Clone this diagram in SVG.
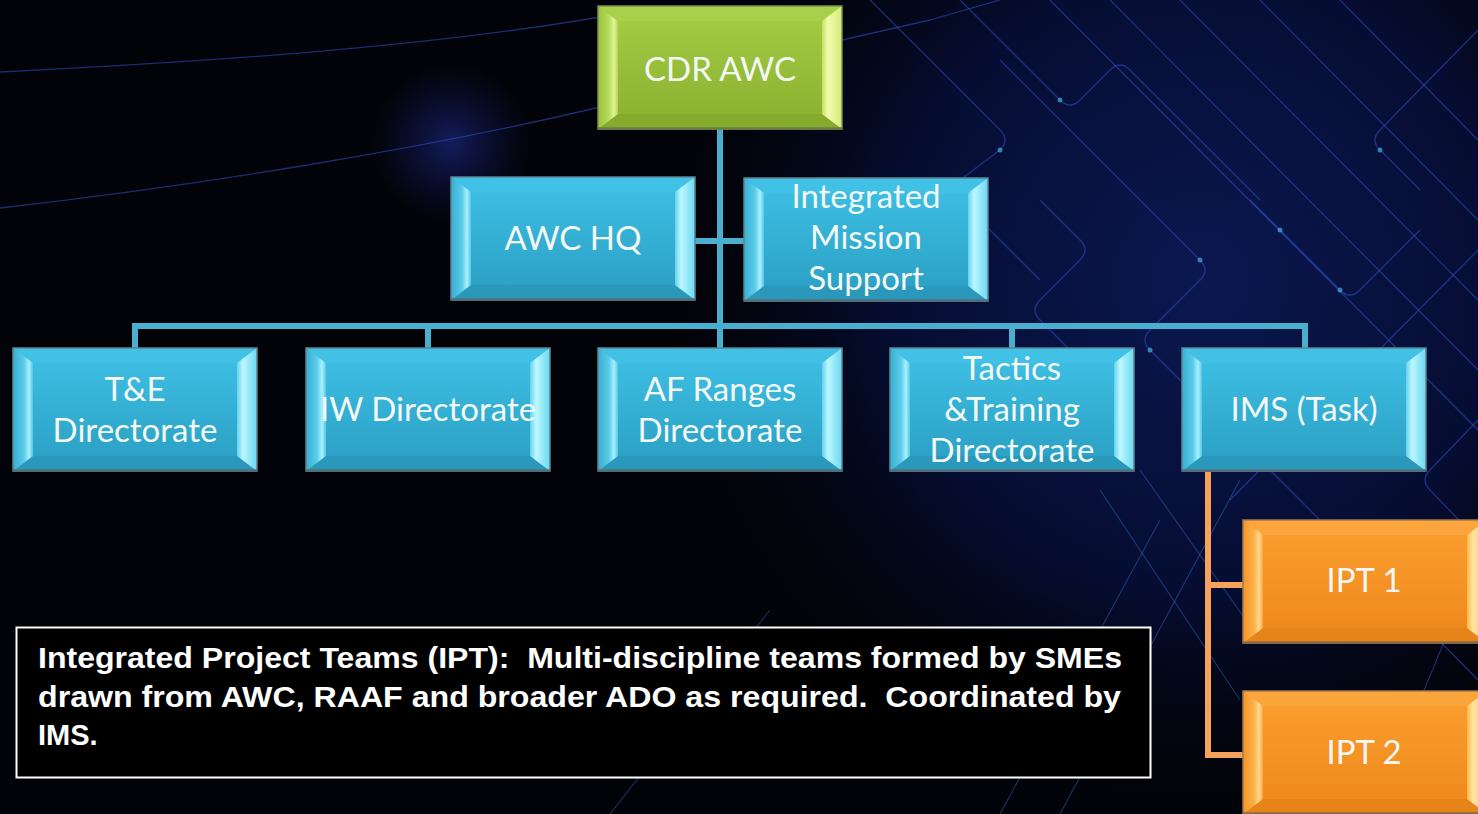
<svg xmlns="http://www.w3.org/2000/svg" xmlns:xlink="http://www.w3.org/1999/xlink" width="1478" height="814" viewBox="0 0 1478 814">
<style>
.node-text{font-family:"Lato","Open Sans","DejaVu Sans",sans-serif;font-size:33px;fill:#f4f8f4;text-anchor:middle}
.note-text{font-family:"Liberation Sans",Arial,sans-serif;font-weight:bold;font-size:29px;fill:#ffffff}
.conn-blue{fill:none;stroke:#4aafcf;stroke-width:6;stroke-linejoin:miter}
.conn-orange{fill:none;stroke:#f5a35a;stroke-width:6;stroke-linejoin:miter}
.circ{fill:none;stroke:#3356d8;stroke-width:1.3;opacity:.5;stroke-linejoin:round}
.circ2{fill:none;stroke:#3a7ae0;stroke-width:1.1;opacity:.4}
.dot{fill:#4fc3f0;opacity:.6}
.edge{fill:none;stroke:#5d8490;stroke-width:1.5}
</style>
<defs>
<radialGradient id="bgGlow" cx="1200" cy="280" r="560" gradientUnits="userSpaceOnUse">
<stop offset="0" stop-color="#0b1850"/>
<stop offset="0.55" stop-color="#060d32"/>
<stop offset="1" stop-color="#020308" stop-opacity="0"/>
</radialGradient>
<radialGradient id="blob" cx="0.5" cy="0.5" r="0.5">
<stop offset="0" stop-color="#2a3cc0" stop-opacity="0.45"/>
<stop offset="1" stop-color="#1a2890" stop-opacity="0"/>
</radialGradient>
<linearGradient id="bFace" x1="0" y1="0" x2="0" y2="1"><stop offset="0" stop-color="#3dbde2"/><stop offset="1" stop-color="#2ca2c6"/></linearGradient>
<linearGradient id="bLeft" x1="0" y1="0" x2="1" y2="0"><stop offset="0" stop-color="#35afd3"/><stop offset="0.55" stop-color="#5ccbe8"/><stop offset="0.8" stop-color="#a8f1ff"/><stop offset="1" stop-color="#55c6e4"/></linearGradient>
<linearGradient id="bRight" x1="0" y1="0" x2="1" y2="0"><stop offset="0" stop-color="#62d2ee"/><stop offset="0.3" stop-color="#bdf7ff"/><stop offset="1" stop-color="#6ad8f2"/></linearGradient>
<linearGradient id="gFace" x1="0" y1="0" x2="0" y2="1"><stop offset="0" stop-color="#a2ca42"/><stop offset="1" stop-color="#8db332"/></linearGradient>
<linearGradient id="gLeft" x1="0" y1="0" x2="1" y2="0"><stop offset="0" stop-color="#9cc23e"/><stop offset="0.55" stop-color="#b8dc5c"/><stop offset="0.8" stop-color="#e2f49a"/><stop offset="1" stop-color="#b0d456"/></linearGradient>
<linearGradient id="gRight" x1="0" y1="0" x2="1" y2="0"><stop offset="0" stop-color="#c4e060"/><stop offset="0.3" stop-color="#f2fbae"/><stop offset="1" stop-color="#d2ea78"/></linearGradient>
<linearGradient id="oFace" x1="0" y1="0" x2="0" y2="1"><stop offset="0" stop-color="#fa9c2e"/><stop offset="1" stop-color="#ef8a1e"/></linearGradient>
<linearGradient id="oLeft" x1="0" y1="0" x2="1" y2="0"><stop offset="0" stop-color="#f59528"/><stop offset="0.55" stop-color="#fbb048"/><stop offset="0.8" stop-color="#ffd98e"/><stop offset="1" stop-color="#f9a63c"/></linearGradient>
<linearGradient id="oRight" x1="0" y1="0" x2="1" y2="0"><stop offset="0" stop-color="#fbb650"/><stop offset="0.3" stop-color="#ffe6a4"/><stop offset="1" stop-color="#fcc060"/></linearGradient>

<g id="boxBlue">
<rect x="0" y="0" width="244" height="123" fill="url(#bFace)"/>
<polygon points="0,0 244,0 224,15 20,15" fill="#41c1e5"/>
<polygon points="0,123 244,123 224,108 20,108" fill="#2a98ba"/>
<polygon points="0,0 20,15 20,108 0,123" fill="url(#bLeft)"/>
<polygon points="244,0 224,15 224,108 244,123" fill="url(#bRight)"/>
<rect x="20" y="15" width="204" height="93" fill="url(#bFace)"/>
<rect x="0" y="0" width="244" height="123" class="edge"/>
<line x1="0" y1="122.5" x2="244" y2="122.5" stroke="#53707a" stroke-width="2.5"/>
</g>
<g id="boxGreen">
<rect x="0" y="0" width="244" height="123" fill="url(#gFace)"/>
<polygon points="0,0 244,0 224,15 20,15" fill="#a8d04a"/>
<polygon points="0,123 244,123 224,108 20,108" fill="#86aa2c"/>
<polygon points="0,0 20,15 20,108 0,123" fill="url(#gLeft)"/>
<polygon points="244,0 224,15 224,108 244,123" fill="url(#gRight)"/>
<rect x="20" y="15" width="204" height="93" fill="url(#gFace)"/>
<rect x="0" y="0" width="244" height="123" fill="none" stroke="#7a8f50" stroke-width="1.5"/>
<line x1="0" y1="122.5" x2="244" y2="122.5" stroke="#6c7d48" stroke-width="2.5"/>
</g>
<g id="boxOrange">
<rect x="0" y="0" width="244" height="123" fill="url(#oFace)"/>
<polygon points="0,0 244,0 224,15 20,15" fill="#fba63c"/>
<polygon points="0,123 244,123 224,108 20,108" fill="#e6841a"/>
<polygon points="0,0 20,15 20,108 0,123" fill="url(#oLeft)"/>
<polygon points="244,0 224,15 224,108 244,123" fill="url(#oRight)"/>
<rect x="20" y="15" width="204" height="93" fill="url(#oFace)"/>
<rect x="0" y="0" width="244" height="123" fill="none" stroke="#a07a50" stroke-width="1.5"/>
<line x1="0" y1="122.5" x2="244" y2="122.5" stroke="#8a6a48" stroke-width="2.5"/>
</g>
</defs>

<g id="background">
<rect x="0" y="0" width="1478" height="814" fill="#020308"/>
<rect x="0" y="0" width="1478" height="814" fill="url(#bgGlow)"/>
<circle cx="451" cy="143" r="80" fill="url(#blob)"/>
<path class="circ" d="M0,72 C200,62 420,48 600,17"/>
<path class="circ" d="M0,208 C200,185 420,150 600,107"/>
<path class="circ" d="M842,40 L930,20 L1000,0"/>
<path class="circ" d="M870,0 L1000,130 Q1010,140 1000,150 L960,180 Q950,190 960,200 L1040,280"/>
<path class="circ" d="M960,0 L1060,100 Q1070,110 1080,100 L1110,70 Q1120,60 1130,70 L1260,200"/>
<path class="circ" d="M1050,0 L1478,430"/>
<path class="circ" d="M1110,0 L1478,370"/>
<path class="circ" d="M1180,0 L1478,300"/>
<path class="circ" d="M1260,0 L1478,220"/>
<path class="circ" d="M1340,0 L1478,140"/>
<path class="circ" d="M1000,60 L1200,260 Q1210,270 1200,280 L1150,330 Q1140,340 1150,350 L1300,500 L1478,680"/>
<path class="circ" d="M1040,200 L1080,240 Q1090,250 1080,260 L1040,300 Q1030,310 1040,320 L1110,390"/>
<path class="circ" d="M1478,30 L1380,130 Q1370,140 1380,150 L1420,190"/>
<path class="circ" d="M1478,250 L1300,430 L1230,500"/>
<path class="circ" d="M1478,420 L1430,470 Q1420,480 1430,490 L1478,540"/>
<path class="circ" d="M1250,200 L1340,290 Q1350,300 1360,290 L1420,230"/>
<path class="circ2" d="M1160,520 L1000,814"/>
<path class="circ2" d="M1240,480 L1060,814"/>
<path class="circ2" d="M1140,470 L1260,640"/>
<path class="circ2" d="M1100,490 L1240,700"/>
<path class="circ2" d="M770,610 L610,814"/>
<path class="circ2" d="M1478,560 L1420,700"/>
<circle class="dot" cx="1060" cy="100" r="2.5"/>
<circle class="dot" cx="1200" cy="260" r="2.5"/>
<circle class="dot" cx="1150" cy="350" r="2.5"/>
<circle class="dot" cx="1340" cy="290" r="2.5"/>
<circle class="dot" cx="1380" cy="150" r="2.5"/>
<circle class="dot" cx="1300" cy="430" r="2.5"/>
<circle class="dot" cx="1000" cy="150" r="2.5"/>
<circle class="dot" cx="1280" cy="230" r="2.5"/>
</g>

<g id="connectors">
<path class="conn-blue" d="M720,129 V348"/>
<path class="conn-blue" d="M695,241 H744"/>
<path class="conn-blue" d="M135,348 V326 H1305 V348"/>
<path class="conn-blue" d="M428,326 V348"/>
<path class="conn-blue" d="M1012,326 V348"/>
<path class="conn-orange" d="M1208,472 V755 H1243"/>
<path class="conn-orange" d="M1208,585 H1243"/>
</g>

<g id="node-cdr-awc">
<use href="#boxGreen" x="598" y="6"/>
<text class="node-text" x="720" y="81">CDR AWC</text>
</g>
<g id="node-awc-hq">
<use href="#boxBlue" x="451" y="177"/>
<text class="node-text" x="573" y="250">AWC HQ</text>
</g>
<g id="node-ims-support">
<use href="#boxBlue" x="744" y="178"/>
<text class="node-text" x="866" y="208">Integrated</text>
<text class="node-text" x="866" y="249">Mission</text>
<text class="node-text" x="866" y="290">Support</text>
</g>
<g id="node-te">
<use href="#boxBlue" x="13" y="348"/>
<text class="node-text" x="135" y="401">T&amp;E</text>
<text class="node-text" x="135" y="442">Directorate</text>
</g>
<g id="node-iw">
<use href="#boxBlue" x="306" y="348"/>
<text class="node-text" x="428" y="421">IW Directorate</text>
</g>
<g id="node-af-ranges">
<use href="#boxBlue" x="598" y="348"/>
<text class="node-text" x="720" y="401">AF Ranges</text>
<text class="node-text" x="720" y="442">Directorate</text>
</g>
<g id="node-tactics">
<use href="#boxBlue" x="890" y="348"/>
<text class="node-text" x="1012" y="380">Tactics</text>
<text class="node-text" x="1012" y="421">&amp;Training</text>
<text class="node-text" x="1012" y="462">Directorate</text>
</g>
<g id="node-ims-task">
<use href="#boxBlue" x="1182" y="348"/>
<text class="node-text" x="1304" y="421">IMS (Task)</text>
</g>
<g id="node-ipt1">
<use href="#boxOrange" x="1243" y="520"/>
<text class="node-text" x="1364" y="592">IPT 1</text>
</g>
<g id="node-ipt2">
<use href="#boxOrange" x="1243" y="691"/>
<text class="node-text" x="1364" y="764">IPT 2</text>
</g>

<g id="note">
<rect x="16.5" y="627.5" width="1134" height="150" fill="#000000" stroke="#ffffff" stroke-width="2"/>
<text class="note-text" x="38" y="668" xml:space="preserve" textLength="1084" lengthAdjust="spacingAndGlyphs">Integrated Project Teams (IPT):  Multi-discipline teams formed by SMEs</text>
<text class="note-text" x="38" y="707" xml:space="preserve" textLength="1083" lengthAdjust="spacingAndGlyphs">drawn from AWC, RAAF and broader ADO as required.  Coordinated by</text>
<text class="note-text" x="38" y="745">IMS.</text>
</g>
</svg>
